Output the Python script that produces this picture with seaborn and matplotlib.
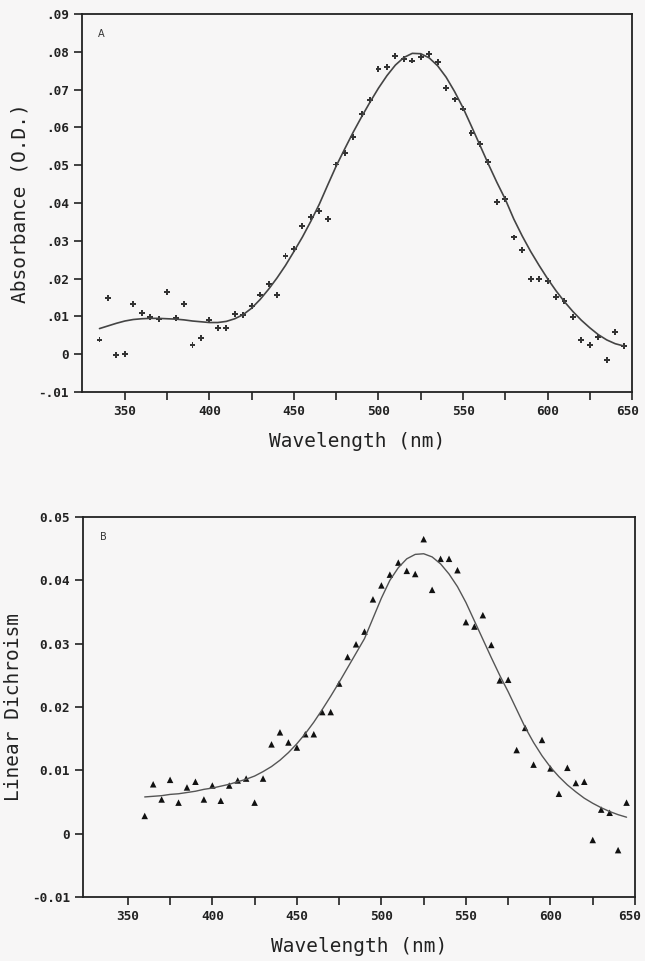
import numpy as np
import pandas as pd
import matplotlib
matplotlib.use("Agg")
import matplotlib.pyplot as plt
import matplotlib.transforms as mtransforms
import seaborn as sns

# --- panel A : absorbance ---
wl_a = np.arange(335, 650, 5)
abs_pts = [0.0039, 0.0148, -0.0002, 0.0000, 0.0133, 0.0110, 0.0098, 0.0093, 0.0165, 0.0096,
           0.0133, 0.0024, 0.0044, 0.0091, 0.0070, 0.0070, 0.0106, 0.0104, 0.0128, 0.0158,
           0.0186, 0.0157, 0.0260, 0.0278, 0.0340, 0.0362, 0.0379, 0.0357, 0.0502, 0.0532,
           0.0575, 0.0636, 0.0673, 0.0755, 0.0760, 0.0788, 0.0781, 0.0777, 0.0787, 0.0795,
           0.0772, 0.0704, 0.0674, 0.0650, 0.0586, 0.0556, 0.0508, 0.0403, 0.0411, 0.0309,
           0.0276, 0.0200, 0.0200, 0.0193, 0.0151, 0.0140, 0.0098, 0.0038, 0.0024, 0.0045,
           -0.0015, 0.0058, 0.0022]
abs_fit = [0.0068, 0.0075, 0.0082, 0.0088, 0.0092, 0.0094, 0.0095, 0.0095, 0.0094, 0.0093,
           0.0091, 0.0088, 0.0086, 0.0084, 0.0084, 0.0087, 0.0094, 0.0105, 0.0122, 0.0145,
           0.0172, 0.0202, 0.0235, 0.0272, 0.0310, 0.0352, 0.0397, 0.0448, 0.0498, 0.0543,
           0.0587, 0.0628, 0.0667, 0.0704, 0.0737, 0.0765, 0.0785, 0.0796, 0.0795, 0.0784,
           0.0763, 0.0733, 0.0695, 0.0652, 0.0603, 0.0553, 0.0503, 0.0455, 0.0410, 0.0358,
           0.0313, 0.0272, 0.0235, 0.0200, 0.0168, 0.0139, 0.0113, 0.0090, 0.0070, 0.0052,
           0.0038, 0.0028, 0.0022]

# --- panel B : linear dichroism ---
wl_b = np.arange(360, 650, 5)
ld_pts = [0.0028, 0.0078, 0.0054, 0.0085, 0.0049, 0.0073, 0.0082, 0.0054, 0.0076, 0.0052,
          0.0076, 0.0084, 0.0087, 0.0049, 0.0087, 0.0141, 0.0160, 0.0144, 0.0136, 0.0157,
          0.0157, 0.0192, 0.0192, 0.0237, 0.0279, 0.0299, 0.0319, 0.0370, 0.0392, 0.0409,
          0.0428, 0.0415, 0.0410, 0.0465, 0.0385, 0.0434, 0.0434, 0.0416, 0.0334, 0.0327,
          0.0345, 0.0298, 0.0242, 0.0243, 0.0132, 0.0167, 0.0109, 0.0148, 0.0103, 0.0063,
          0.0104, 0.0080, 0.0082, -0.0010, 0.0038, 0.0033, -0.0026, 0.0049]
ld_fit = [0.0058, 0.0059, 0.0060, 0.0062, 0.0063, 0.0065, 0.0067, 0.0070, 0.0072, 0.0075,
          0.0078, 0.0082, 0.0086, 0.0091, 0.0098, 0.0106, 0.0116, 0.0128, 0.0142, 0.0158,
          0.0176, 0.0196, 0.0217, 0.0239, 0.0262, 0.0285, 0.0308, 0.0340, 0.0372, 0.0400,
          0.0420, 0.0434, 0.0441, 0.0442, 0.0437, 0.0426, 0.0410, 0.0390, 0.0365, 0.0336,
          0.0307, 0.0278, 0.0250, 0.0224, 0.0196, 0.0168, 0.0144, 0.0123, 0.0105, 0.0090,
          0.0077, 0.0066, 0.0056, 0.0048, 0.0041, 0.0035, 0.0030, 0.0026]

yticks_a = [-0.01, 0, 0.01, 0.02, 0.03, 0.04, 0.05, 0.06, 0.07, 0.08, 0.09]
ylabels_a = ["-.01", "0", ".01", ".02", ".03", ".04", ".05", ".06", ".07", ".08", ".09"]
yticks_b = [-0.01, 0, 0.01, 0.02, 0.03, 0.04, 0.05]
ylabels_b = ["-0.01", "0", "0.01", "0.02", "0.03", "0.04", "0.05"]
xticks = [350, 400, 450, 500, 550, 600, 650]

df_a = pd.DataFrame({"wl": wl_a, "pts": abs_pts, "fit": abs_fit})
df_b = pd.DataFrame({"wl": wl_b, "pts": ld_pts, "fit": ld_fit})

sns.set_style("ticks")
plt.rcParams["font.family"] = ["DejaVu Sans Mono", "DejaVu Sans"]
bg = "#f7f6f6"

fig = plt.figure(figsize=(6.45, 9.61), dpi=100, facecolor=bg)
ax1 = fig.add_axes([0.127, 0.592, 0.853, 0.3934], facecolor=bg)
ax2 = fig.add_axes([0.1287, 0.0666, 0.8558, 0.3954], facecolor=bg)

sns.lineplot(data=df_a, x="wl", y="fit", ax=ax1, color="#444444", lw=1.2)
sns.scatterplot(data=df_a, x="wl", y="pts", ax=ax1, marker="P", s=18, color="#333333",
                edgecolor="none")
sns.lineplot(data=df_b, x="wl", y="fit", ax=ax2, color="#555555", lw=1.0)
sns.scatterplot(data=df_b, x="wl", y="pts", ax=ax2, marker="^", s=22, color="#111111",
                edgecolor="none")

for ax, xl, yt, yl, lab, ylab in [(ax1, (324.6, 650), yticks_a, ylabels_a, "A", "Absorbance (O.D.)"),
                                  (ax2, (323.5, 650), yticks_b, ylabels_b, "B", "Linear Dichroism")]:
    ax.set_xlim(*xl)
    ax.set_ylim(-0.01, yt[-1])
    ax.set_xticks(xticks)
    ax.set_xticklabels([str(t) for t in xticks])
    ax.set_xticks([375, 425, 475, 525, 575, 625], minor=True)
    ax.set_yticks(yt)
    ax.set_yticklabels(yl)
    ax.tick_params(axis="both", which="both", direction="out", length=6, width=1.2,
                   labelsize=9.2, color="#222222", labelcolor="#222222")
    for t in ax.get_xticklabels() + ax.get_yticklabels():
        t.set_fontweight("bold")
    # keep the last x label inside the figure edge
    last = ax.get_xticklabels()[-1]
    last.set_transform(last.get_transform() +
                       mtransforms.ScaledTranslation(-0.05, 0, fig.dpi_scale_trans))
    for s in ax.spines.values():
        s.set_linewidth(1.3)
        s.set_color("#222222")
        s.set_visible(True)
    ax.set_xlabel("Wavelength (nm)", fontsize=14, color="#222222", labelpad=10)
    ax.set_ylabel(ylab, fontsize=14, color="#222222", labelpad=6)
    ax.text(0.03, 0.94, lab, transform=ax.transAxes, fontsize=7, color="#333333",
            family="DejaVu Sans")

fig.savefig("out.png", dpi=100, facecolor=bg)
